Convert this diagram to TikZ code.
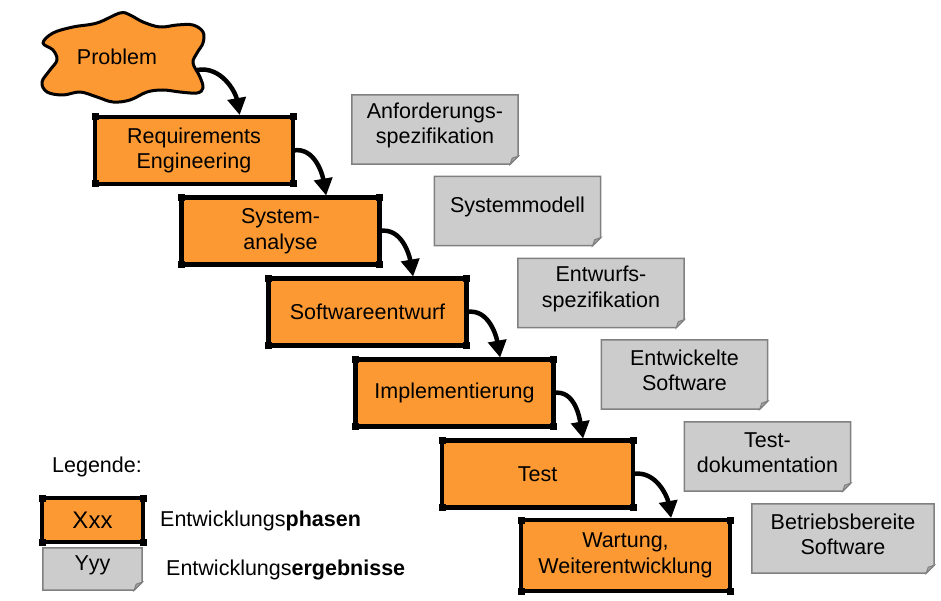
\documentclass[tikz,border=0pt]{standalone}
\usepackage{fontspec}
\setmainfont{Liberation Sans}
\usetikzlibrary{arrows.meta}
\pgfdeclarelayer{background}
\pgfsetlayers{background,main}
\definecolor{phase}{RGB}{253,153,51}
\definecolor{docfill}{RGB}{204,204,204}
\definecolor{docline}{RGB}{128,128,128}
\definecolor{docfold}{RGB}{165,165,165}
\begin{document}
\begin{tikzpicture}[x=1pt,y=1pt,font=\fontsize{21.5}{25.5}\selectfont,line join=round,
	phasebox/.style={draw,line width=4.5pt,fill=phase,outer sep=0pt,align=center,minimum height=67pt},
	docbox/.style={align=center,minimum width=166pt,minimum height=69pt},
	flow/.style={line width=4.5pt,-{Triangle[length=17pt,width=18pt]},shorten >=2pt}]
\useasboundingbox (0,0) rectangle (941,-601);
% problem cloud
\filldraw[fill=phase,line width=3pt] plot[smooth cycle,tension=0.6] coordinates {(43,-43) (53,-33) (73,-27)
	(97,-23) (120,-13) (130,-15) (143,-22) (160,-27) (177,-25) (193,-25) (203,-32) (203,-43) (197,-53)
	(193,-63) (200,-77) (203,-88) (197,-93) (180,-92) (163,-90) (147,-92) (130,-100) (113,-102) (97,-97)
	(80,-92) (63,-95) (47,-92) (42,-82) (50,-70) (57,-60) (53,-50)};
\node (prob) at (117,-57) {Problem};
\coordinate (pb) at (197,-70);
% phases
\foreach \n/\x/\y/\w/\h/\t in {p1/194/150.5/198/67/{Requirements\\Engineering},p2/280.5/231/198/67/{System-\\analyse},
	p3/367.5/312/198/67/Softwareentwurf,p4/454.5/393/198/67/Implementierung,p5/537.5/474/191/67/Test,
	p6/625.5/555.5/209/71/{Wartung,\\Weiterentwicklung}}
	\node[phasebox,minimum width=\w pt,minimum height=\h pt] (\n) at (\x,-\y) {\t};
% results
\foreach \n/\x/\y/\w/\t in {d1/435/125.5/166/{Anforderungs-\\spezifikation},d2/517.5/207/166/Systemmodell,
	d3/601/289/166/{Entwurfs-\\spezifikation},d4/684.5/370.5/166/{Entwickelte\\Software},
	d5/767.5/452.5/166/{Test-\\dokumentation},d6/843/534.5/182/{Betriebsbereite\\Software}}
	\node[docbox,minimum width=\w pt] (\n) at (\x,-\y) {\t};
% legend
\node (leg) at (97,-467) {Legende:};
\node[phasebox,minimum width=101pt,minimum height=44pt,font=\fontsize{24}{28}\selectfont] (lx) at (92.5,-520) {Xxx};
\node[docbox,minimum width=99pt,minimum height=42pt] (ly) at (92.5,-565) {Yyy};
\node[anchor=west,inner sep=0pt] (lxt) at (160,-521) {Entwicklungs\textbf{phasen}};
\node[anchor=west,inner sep=0pt] (lyt) at (166,-570) {Entwicklungs\textbf{ergebnisse}};
% corners of the phases
\foreach \n in {p1,p2,p3,p4,p5,p6,lx}
	\foreach \a in {north west,north east,south west,south east}
		\fill (\n.\a) ++(-3.5,-3.5) rectangle ++(7,7);
% sheets behind the results
\begin{pgfonlayer}{background}
\foreach \n in {d1,d2,d3,d4,d5,d6,ly}{
	\filldraw[fill=docfill,draw=docline,line width=1.5pt] ([yshift=-4pt]\n.north west) -- ([yshift=-4pt]\n.north east)
		-- ([yshift=4pt]\n.south east) -- ([shift={(-8pt,-4pt)}]\n.south east) -- ([yshift=-4pt]\n.south west) -- cycle;
	\filldraw[fill=docfold,draw=docline,line width=1pt] ([yshift=4pt]\n.south east) -- ([shift={(-8pt,-4pt)}]\n.south east)
		-- ([shift={(-6pt,2pt)}]\n.south east) -- cycle;
}
\end{pgfonlayer}
% flow
\draw[flow] (pb) to[out=10,in=100] ([xshift=46pt]p1.north);
\foreach \a/\b in {p1/p2,p2/p3,p3/p4,p4/p5,p5/p6}
	\draw[flow] (\a.east) to[out=10,in=100] ([xshift=46pt]\b.north);
\end{tikzpicture}
\end{document}
